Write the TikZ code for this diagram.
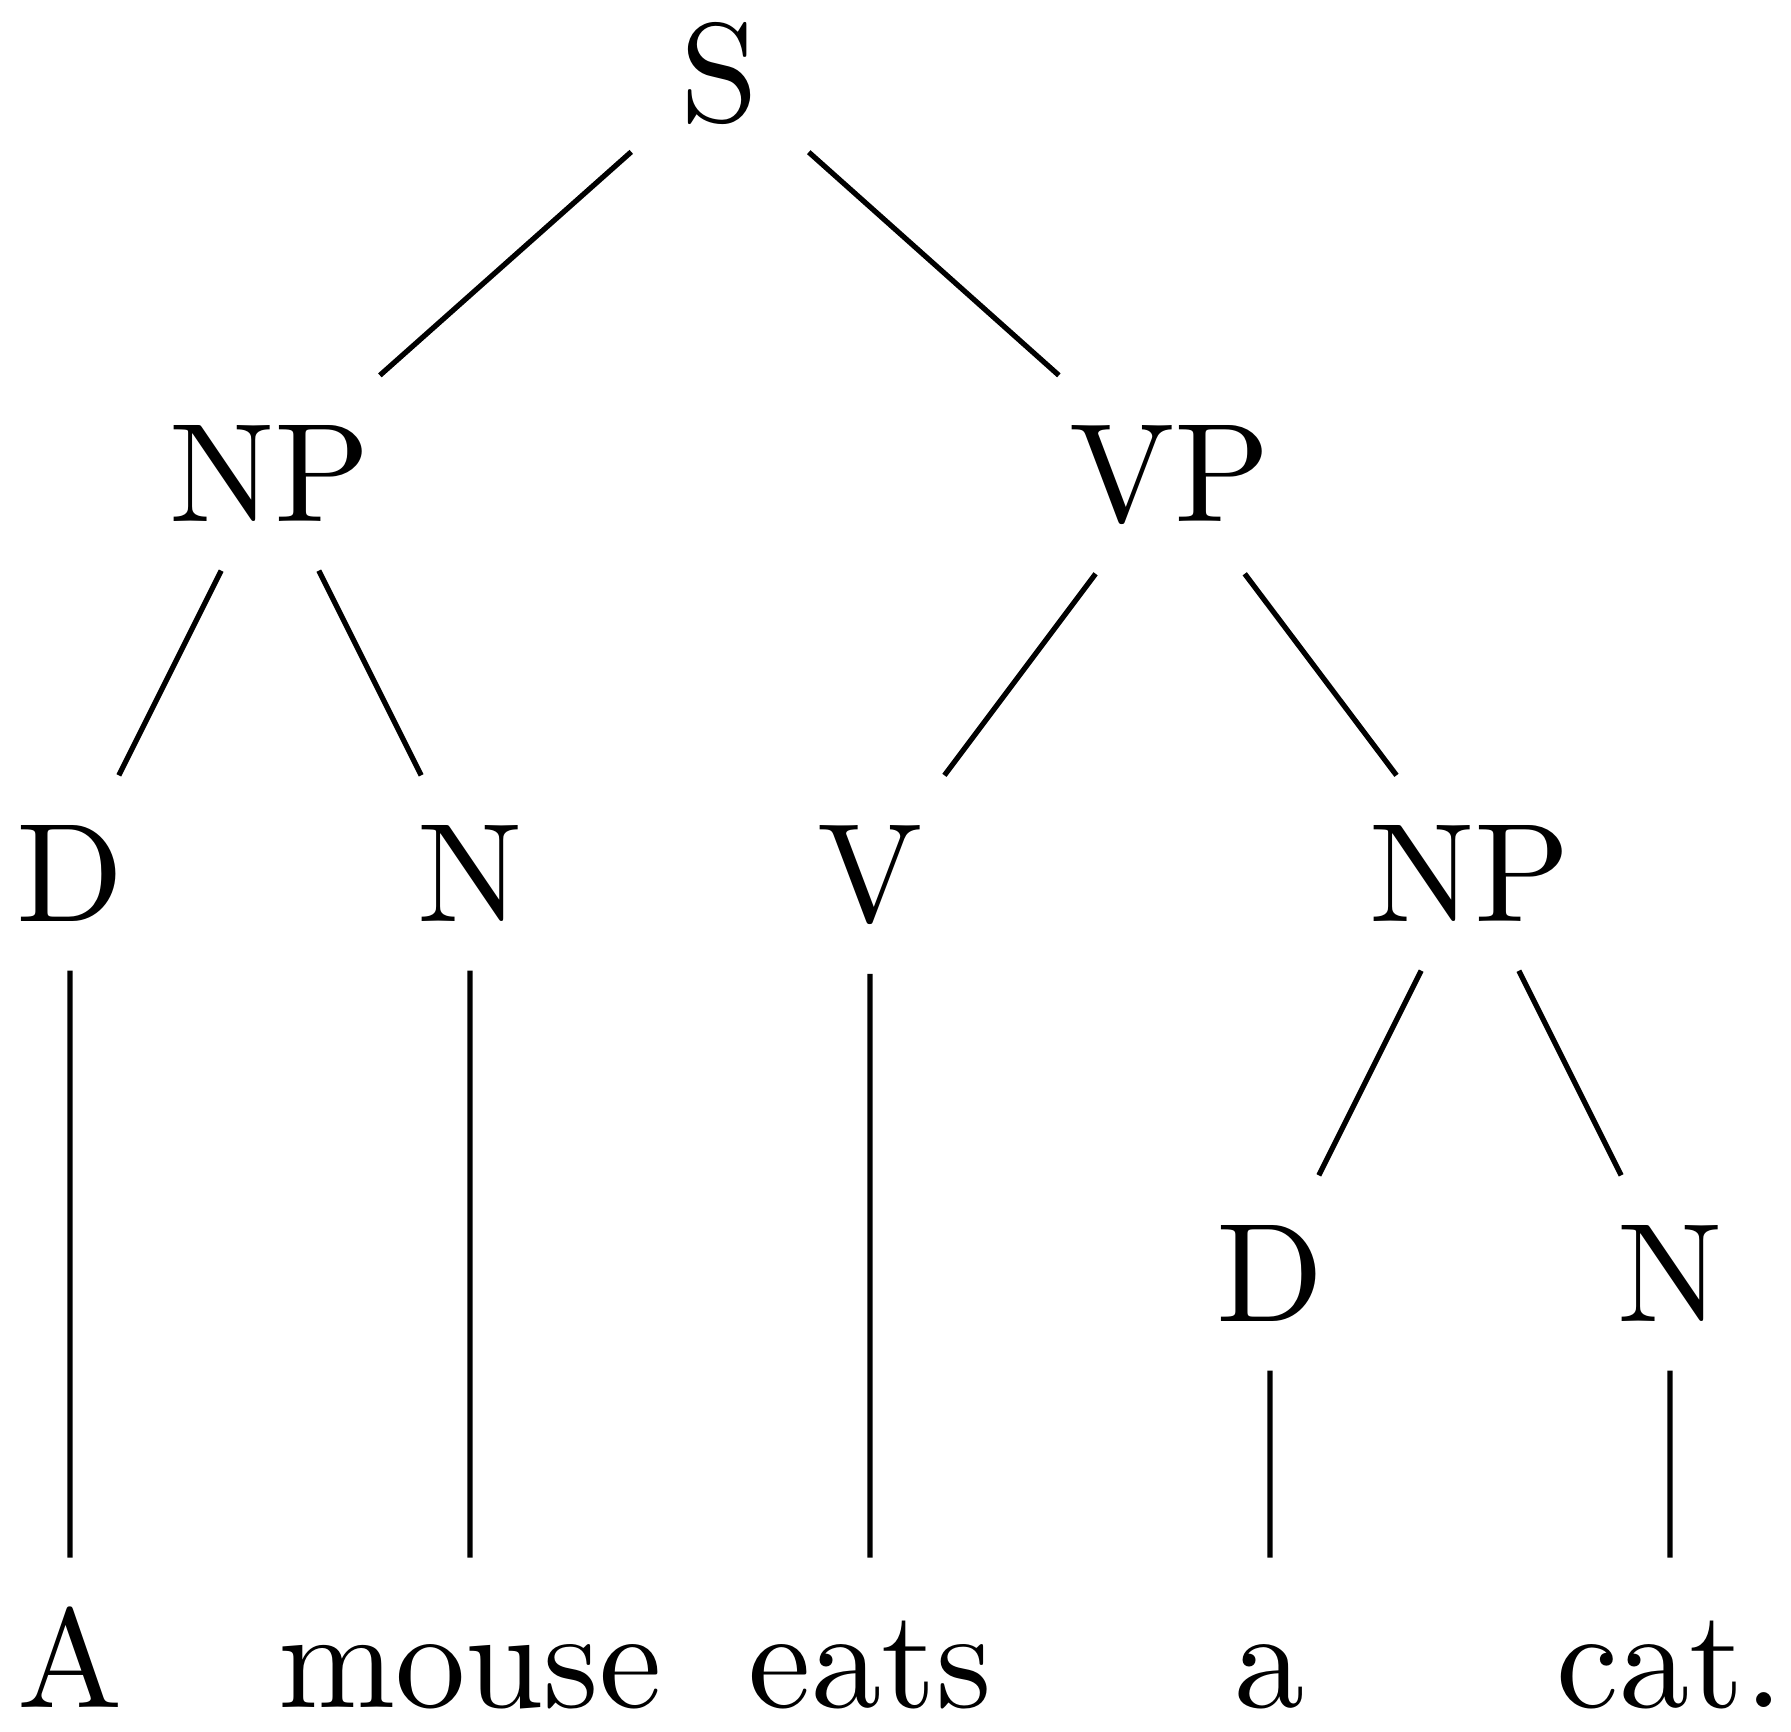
\documentclass[tikz,border=0pt]{standalone}
\usepackage{tikz}

\begin{document}
\begin{tikzpicture}[scale = 4, transform shape, line width = 1.5pt,
        every node/.style = {anchor = base, outer sep = .2pt},
        leaf/.style = {text height = .71em}]
    \useasboundingbox (0,0) rectangle (4.4775,-4.3275);
    % phrases
    \node (S)   at (1.8,-.3025)    {S};
    \node (NP)  at (.675,-1.3025)  {NP};
    \node (VP)  at (2.925,-1.3025) {VP};
    \node (D)   at (.175,-2.3025)  {D};
    \node (N)   at (1.175,-2.3025) {N};
    \node (V)   at (2.175,-2.3025) {V};
    \node (NPo) at (3.675,-2.3025) {NP};
    \node (Do)  at (3.175,-3.3025) {D};
    \node (No)  at (4.175,-3.3025) {N};
    % words
    \node[leaf] (A)     at (.175,-4.2675)  {A};
    \node[leaf] (mouse) at (1.175,-4.2675) {mouse};
    \node[leaf] (eats)  at (2.175,-4.2675) {eats};
    \node[leaf] (a)     at (3.175,-4.2675) {a};
    \node[leaf] (cat)   at (4.175,-4.2675) {cat.};
    % branches
    \draw (S) -- (NP) (S) -- (VP)
          (NP) -- (D) (NP) -- (N)
          (VP) -- (V) (VP) -- (NPo)
          (NPo) -- (Do) (NPo) -- (No)
          (D) -- (A) (N) -- (mouse) (V) -- (eats)
          (Do) -- (a) (No) -- (cat);
\end{tikzpicture}
\end{document}
